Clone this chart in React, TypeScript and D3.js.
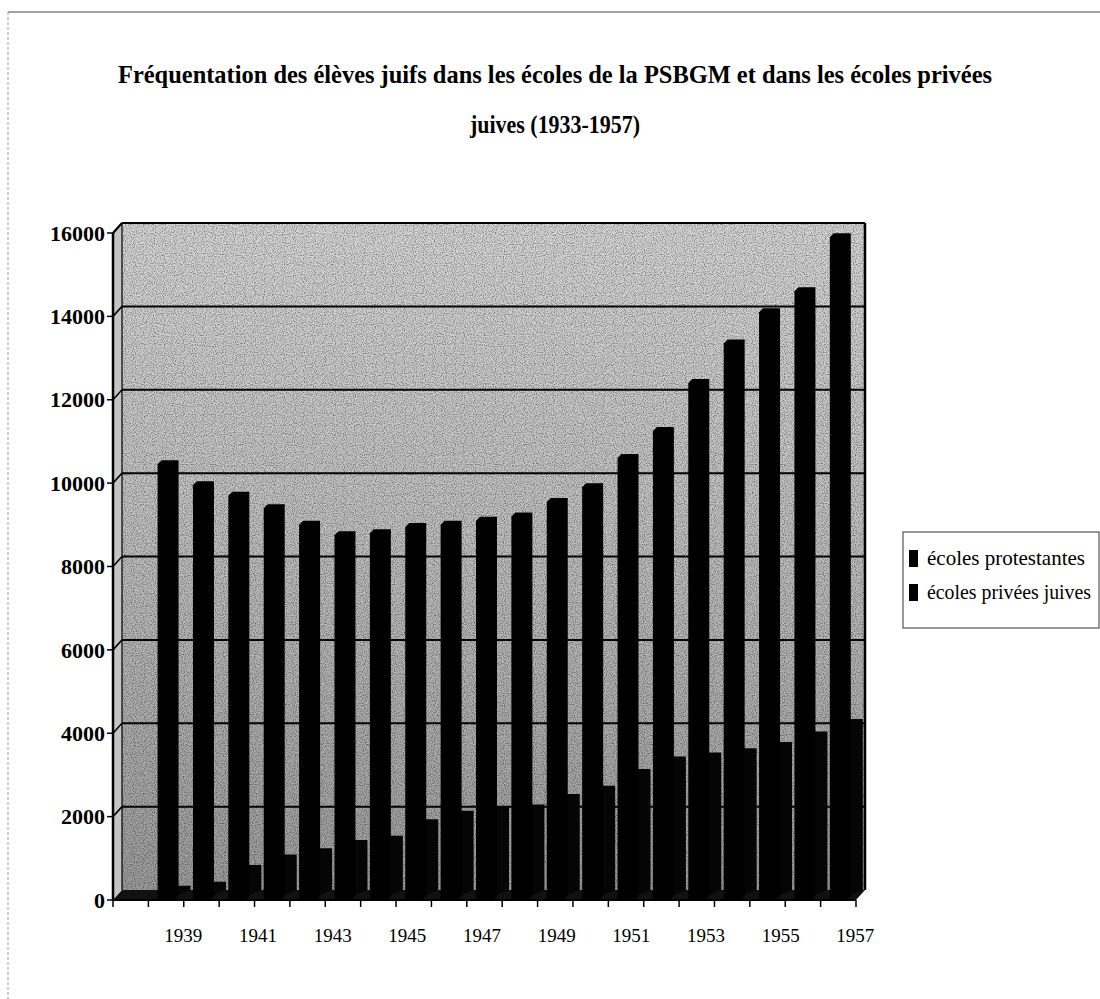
import React from "react";
import * as d3 from "d3";

// data
const years = ["1937", "1938", "1939", "1940", "1941", "1942", "1943", "1944", "1945", "1946", "1947",
  "1948", "1949", "1950", "1951", "1952", "1953", "1954", "1955", "1956", "1957"];
const protestantes = [0, 10450, 9950, 9700, 9400, 9000, 8750, 8800, 8950, 9000, 9100,
  9200, 9550, 9900, 10600, 11250, 12400, 13350, 14100, 14600, 15900];
const priveesJuives = [0, 100, 200, 600, 850, 1000, 1200, 1300, 1700, 1900, 2000,
  2050, 2300, 2500, 2900, 3200, 3300, 3400, 3550, 3800, 4100];
const yTicks = [0, 2000, 4000, 6000, 8000, 10000, 12000, 14000, 16000];
const xLabels = ["1939", "1941", "1943", "1945", "1947", "1949", "1951", "1953", "1955", "1957"];
const seriesNames = ["écoles protestantes", "écoles privées juives"];
const titleLines = [
  "Fréquentation des élèves juifs dans les écoles de la PSBGM et dans les écoles privées",
  "juives (1933-1957)",
];

const W = 1100;
const H = 999;
const left = 113, right = 856, bottom = 900, top = 233;
const DX = 9, DY = -10; // depth of the 3d box

export default function App() {
  const x = d3.scaleBand().domain(years).range([left, right]);
  // labels sit on the near edge of the floor, slightly wider (perspective)
  const xl = d3.scaleBand().domain(years).range([left - 23, right + 18]);
  const y = d3.scaleLinear().domain([0, 16000]).range([bottom, top]);
  const bw = x.bandwidth() * 0.48;
  const line = d3.line();

  const poly = (pts) => line(pts) + "Z";

  const frontBar = (yr, v) => {
    const c = x(yr) + x.bandwidth() / 2;
    const x0 = c - bw / 2, x1 = c + bw / 2, y0 = y(0), y1 = y(v);
    const d = 4;
    return poly([[x0, y0], [x0, y1], [x0 + d, y1 - d], [x1 + d, y1 - d], [x1 + d, y0 - d], [x1, y0]]);
  };
  const backBar = (yr, v) => {
    const c = x(yr) + x.bandwidth() / 2;
    const x0 = c - bw / 2 + 4, x1 = c + bw / 2 + 4, y0 = y(0) - 5, y1 = y(v) - 5;
    const d = 12;
    return poly([[x0, y0], [x0, y1], [x0 + d, y1 - 5], [x1 + d, y1 - 5], [x1 + d, y0 - 5], [x1, y0]]);
  };

  const serif = "'Liberation Serif', 'Times New Roman', serif";

  return (
    <svg width={W} height={H} style={{ position: "absolute", left: 0, top: 0, background: "#fff" }}
      fontFamily={serif}>
      <defs>
        <linearGradient id="wall" x1="0" y1="0" x2="0" y2="1">
          <stop offset="0%" stopColor="#d6d6d6" />
          <stop offset="45%" stopColor="#c0c0c0" />
          <stop offset="100%" stopColor="#9c9c9c" />
        </linearGradient>
        <filter id="grain" x="0" y="0" width="100%" height="100%">
          <feTurbulence type="fractalNoise" baseFrequency="0.9" numOctaves="1" seed="3" />
          <feColorMatrix type="matrix" values="0 0 0 0 0  0 0 0 0 0  0 0 0 0 0  0 0 0 -2.2 1.25" />
        </filter>
      </defs>

      {/* frame of the page */}
      <line x1={8} x2={W} y1={12} y2={12} stroke="#444" strokeWidth={1.2} />
      <line x1={8} x2={8} y1={12} y2={H} stroke="#999" strokeWidth={1} strokeDasharray="3,2" />

      {/* title */}
      <text x={555} y={83} textAnchor="middle" fontSize={25} fontWeight="bold"
        textLength={874} lengthAdjust="spacingAndGlyphs">{titleLines[0]}</text>
      <text x={555} y={133} textAnchor="middle" fontSize={25} fontWeight="bold"
        textLength={170} lengthAdjust="spacingAndGlyphs">{titleLines[1]}</text>

      {/* back wall and side wall */}
      <rect x={left + DX} y={top + DY} width={right - left} height={bottom - top} fill="url(#wall)" />
      <rect x={left + DX} y={top + DY} width={right - left} height={bottom - top} filter="url(#grain)" opacity={0.55} />
      <path d={poly([[left, bottom], [left, top], [left + DX, top + DY], [left + DX, bottom + DY]])} fill="#c4c4c4" />

      {/* gridlines */}
      {yTicks.slice(1).map((t) => (
        <g key={t}>
          <line x1={left + DX} x2={right + DX} y1={y(t) + DY} y2={y(t) + DY} stroke="#000" strokeWidth={2} />
          <line x1={left} x2={left + DX} y1={y(t)} y2={y(t) + DY} stroke="#000" strokeWidth={1.5} />
        </g>
      ))}
      <line x1={right + DX} x2={right + DX} y1={top + DY} y2={bottom + DY} stroke="#000" strokeWidth={2.5} />
      <line x1={left + DX} x2={left + DX} y1={top + DY} y2={bottom + DY} stroke="#000" strokeWidth={1.2} />

      {/* floor */}
      <path d={poly([[left, bottom], [right, bottom], [right + DX, bottom + DY], [left + DX, bottom + DY]])} fill="#111" />

      {/* back row: écoles privées juives */}
      {years.map((yr, i) => priveesJuives[i] > 0 &&
        <path key={"b" + yr} d={backBar(yr, priveesJuives[i])} fill="#050505" />)}
      {/* front row: écoles protestantes */}
      {years.map((yr, i) => protestantes[i] > 0 &&
        <path key={"f" + yr} d={frontBar(yr, protestantes[i])} fill="#000" />)}

      {/* y axis */}
      <line x1={left} x2={left} y1={bottom} y2={top} stroke="#000" strokeWidth={2.5} />
      <line x1={left} x2={left + DX} y1={top} y2={top + DY} stroke="#000" strokeWidth={2} />
      {yTicks.map((t) => (
        <g key={t}>
          <line x1={left - 6} x2={left} y1={y(t)} y2={y(t)} stroke="#000" strokeWidth={1.5} />
          <text x={left - 8} y={y(t)} dy="0.35em" textAnchor="end" fontSize={22} fontWeight="bold">{t}</text>
        </g>
      ))}

      {/* x axis */}
      <line x1={left} x2={right} y1={bottom} y2={bottom} stroke="#000" strokeWidth={2} />
      {[...years.map((yr) => x(yr)), right].map((px, i) => (
        <line key={i} x1={px} x2={px} y1={bottom} y2={bottom + 7} stroke="#000" strokeWidth={1.5} />
      ))}
      {xLabels.map((yr) => (
        <text key={yr} x={xl(yr) + xl.bandwidth() / 2} y={942} textAnchor="middle" fontSize={19}>{yr}</text>
      ))}

      {/* legend */}
      <rect x={903} y={532} width={W - 903 - 1} height={96} fill="#fff" stroke="#333" strokeWidth={1} />
      {seriesNames.map((s, i) => (
        <g key={s} transform={`translate(909,${550 + i * 34})`}>
          <rect x={0} y={0} width={9} height={17} fill="#000" />
          <text x={18} y={15} fontSize={21} textLength={i === 0 ? 158 : 164}
            lengthAdjust="spacingAndGlyphs">{s}</text>
        </g>
      ))}
    </svg>
  );
}
